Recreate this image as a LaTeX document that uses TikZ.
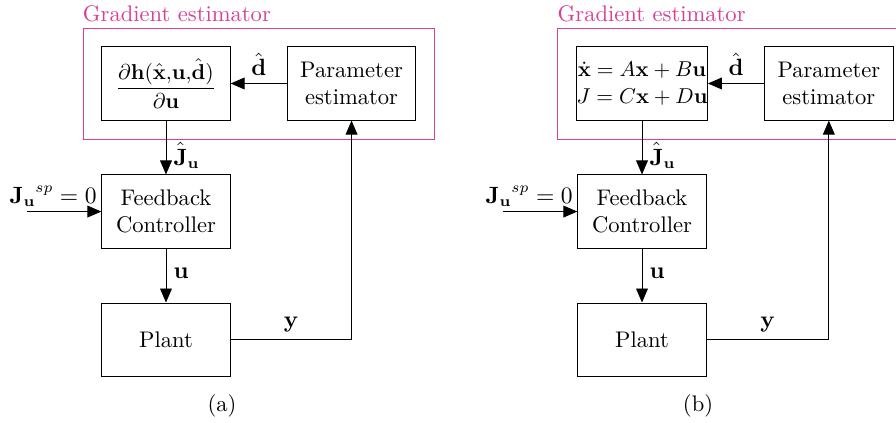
\documentclass[tikz,border=0pt]{standalone}
\usepackage{amsmath}
\usepackage{tikz}
\usetikzlibrary{arrows.meta,positioning,fit}
\definecolor{GradPink}{RGB}{214,64,150}
\tikzset{
  every node/.append style={font=\fontsize{10.5}{12.6}\selectfont},
  block/.style={draw,minimum width=2.1cm,minimum height=1.2cm,align=center},
  estbox/.style={draw=GradPink,inner sep=0.3cm},
  esttext/.style={anchor=base west,inner sep=0,text=GradPink},
  arrow/.style={-{Triangle[length=6.5pt,width=5.5pt]}}
}

\begin{document}
\begin{tikzpicture}
  \useasboundingbox (0,0) rectangle (14.65,-6.9);

  % (a)
  \node[block,font=\normalsize] (gradA) at (2.714,-1.365)
    {$\dfrac{\partial\mathbf{h}(\hat{\mathbf{x}}{,}\mathbf{u}{,}\hat{\mathbf{d}})}{\partial\mathbf{u}}$};
  \node[block,right=0.92cm of gradA] (paramA) {Parameter\\estimator};
  \node[block,below=0.88cm of gradA] (fbA) {Feedback\\Controller};
  \node[block,below=0.88cm of fbA] (plantA) {Plant};
  \node[estbox,fit=(gradA)(paramA)] (gestA) {};
  \node[esttext] (gestlabelA) at ([yshift=0.1cm]gestA.north west) {Gradient estimator};
  \coordinate (inA) at ([xshift=-1.21cm]fbA.west);

  \draw[arrow] (paramA) -- node[above] {$\hat{\mathbf{d}}$} (gradA);
  \draw[arrow] (gradA) -- node[right,pos=0.65] {$\hat{\mathbf{J}}_{\mathbf{u}}$} (fbA);
  \draw[arrow] (inA) -- (fbA.west) node[above left,inner sep=2pt] {$\mathbf{J_u}^{sp}=0$};
  \draw[arrow] (fbA) -- node[right,pos=0.45] {$\mathbf{u}$} (plantA);
  \draw[arrow] (plantA) -- node[above] {$\mathbf{y}$} (plantA -| paramA) -- (paramA);

  \node (capA) at (3.63,-6.64) {(a)};

  % (b)
  \begin{scope}[xshift=7.783cm]
    \node[block,inner sep=0pt,font=\fontsize{9.7}{12.4}\selectfont] (gradB) at (2.714,-1.365)
      {$\dot{\mathbf{x}}=A\mathbf{x}+B\mathbf{u}$\\$J=C\mathbf{x}+D\mathbf{u}$};
    \node[block,right=0.92cm of gradB] (paramB) {Parameter\\estimator};
    \node[block,below=0.88cm of gradB] (fbB) {Feedback\\Controller};
    \node[block,below=0.88cm of fbB] (plantB) {Plant};
    \node[estbox,fit=(gradB)(paramB)] (gestB) {};
    \node[esttext] (gestlabelB) at ([yshift=0.1cm]gestB.north west) {Gradient estimator};
    \coordinate (inB) at ([xshift=-1.21cm]fbB.west);

    \draw[arrow] (paramB) -- node[above] {$\hat{\mathbf{d}}$} (gradB);
    \draw[arrow] (gradB) -- node[right,pos=0.65] {$\hat{\mathbf{J}}_{\mathbf{u}}$} (fbB);
    \draw[arrow] (inB) -- (fbB.west) node[above left,inner sep=2pt] {$\mathbf{J_u}^{sp}=0$};
    \draw[arrow] (fbB) -- node[right,pos=0.45] {$\mathbf{u}$} (plantB);
    \draw[arrow] (plantB) -- node[above] {$\mathbf{y}$} (plantB -| paramB) -- (paramB);

    \node (capB) at (3.63,-6.64) {(b)};
  \end{scope}
\end{tikzpicture}
\end{document}
